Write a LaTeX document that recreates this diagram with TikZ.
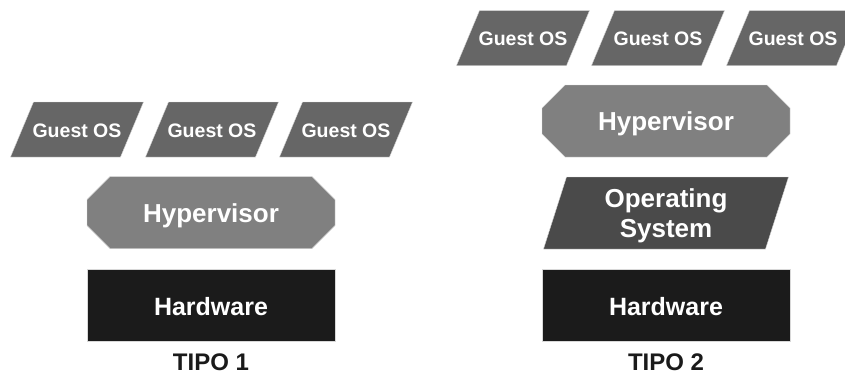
\documentclass[tikz,border=0pt]{standalone}
\usepackage{fontspec}
\setmainfont{Liberation Sans}
\begin{document}
\begin{tikzpicture}[x=1pt,y=-1pt]
  \definecolor{gosfill}{HTML}{666666}
  \definecolor{hypfill}{HTML}{808080}
  \definecolor{osfill}{HTML}{4A4A4A}
  \definecolor{hwfill}{HTML}{1B1B1B}
  \definecolor{edgegray}{HTML}{D8D8D8}
  \definecolor{captext}{HTML}{1A1A1A}
  \tikzset{
    blockedge/.style={draw=edgegray, line width=0.4pt},
    blocktext/.style={text=white, inner sep=0pt, anchor=base, font=\bfseries},
    gostext/.style={blocktext, font=\bfseries\fontsize{19.5}{22}\selectfont},
    bigtext/.style={blocktext, font=\bfseries\fontsize{26}{30}\selectfont},
    hwtext/.style={blocktext, font=\bfseries\fontsize{25}{30}\selectfont},
    captiontext/.style={text=captext, inner sep=0pt, anchor=base, font=\bfseries\fontsize{24}{28}\selectfont},
    guestos/.pic={
      \filldraw[blockedge, fill=gosfill] (-43.5,-27.5) -- (66.5,-27.5) -- (43.5,27.5) -- (-66.5,27.5) -- cycle;
      \node[gostext] (-text) at (0,7.5) {Guest OS};
    },
    hypervisor/.pic={
      \filldraw[blockedge, fill=hypfill] (-101,-36) -- (101,-36) -- (124,-13) -- (124,13)
        -- (101,36) -- (-101,36) -- (-124,13) -- (-124,-13) -- cycle;
      \node[bigtext] (-text) at (0,9.5) {Hypervisor};
    },
    hardware/.pic={
      \filldraw[blockedge, fill=hwfill] (-124,-36) rectangle (124,36);
      \node[hwtext] (-text) at (0,10) {Hardware};
    },
    opsys/.pic={
      \filldraw[blockedge, fill=osfill] (-99.5,-36) -- (122.5,-36) -- (99.5,36) -- (-122.5,36) -- cycle;
      \node[bigtext] (-line1) at (0,-6) {Operating};
      \node[bigtext] (-line2) at (0,24) {System};
    }
  }
  \useasboundingbox (0,0) rectangle (845,376);
  \clip (0,0) rectangle (845,376);

  % Tipo 1: hypervisor directly on the hardware
  \pic (t1g1) at (77,129.5) {guestos};
  \pic (t1g2) at (212,129.5) {guestos};
  \pic (t1g3) at (346,129.5) {guestos};
  \pic (t1hyp) at (211,212.5) {hypervisor};
  \pic (t1hw) at (211,305) {hardware};
  \node[captiontext] (tipo1) at (211,370.5) {TIPO 1};

  % Tipo 2: hypervisor hosted on an operating system
  \pic (t2g1) at (523,38) {guestos};
  \pic (t2g2) at (658,38) {guestos};
  \pic (t2g3) at (793,38) {guestos};
  \pic (t2hyp) at (666,121) {hypervisor};
  \pic (t2os) at (666,213) {opsys};
  \pic (t2hw) at (666,305) {hardware};
  \node[captiontext] (tipo2) at (666,370.5) {TIPO 2};
\end{tikzpicture}
\end{document}
